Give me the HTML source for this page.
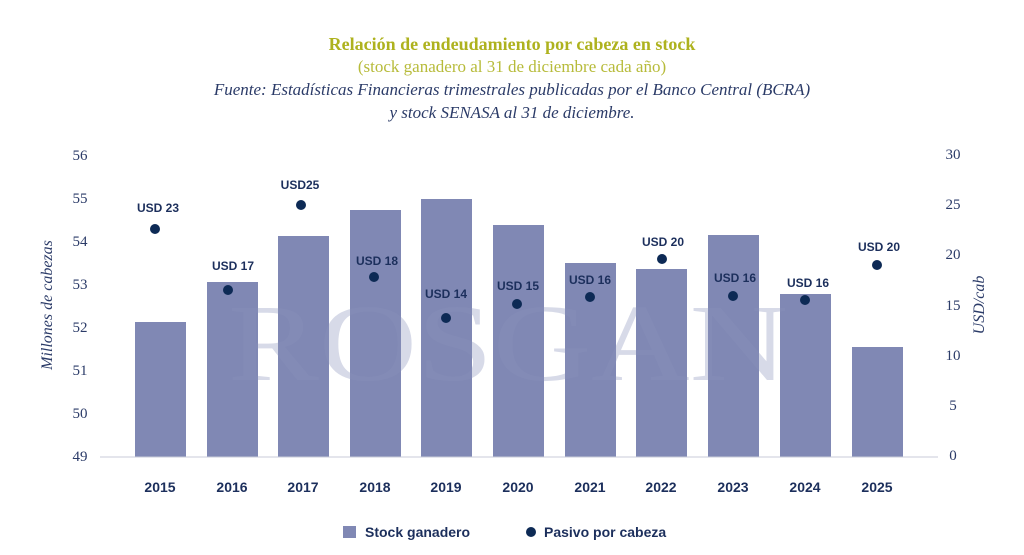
<!DOCTYPE html><html><head><style>body{margin:0;background:#fff;width:1024px;height:550px;overflow:hidden}</style></head><body>
<svg width="1024" height="550" xmlns="http://www.w3.org/2000/svg" font-family="Liberation Serif, serif">
<text x="512" y="50" text-anchor="middle" font-weight="bold" font-size="18" fill="#aeb21e">Relación de endeudamiento por cabeza en stock</text>
<text x="512" y="72" text-anchor="middle" font-size="17" fill="#b7bb3a">(stock ganadero al 31 de diciembre cada año)</text>
<text x="512" y="95" text-anchor="middle" font-style="italic" font-size="17" fill="#2b3b68">Fuente: Estadísticas Financieras trimestrales publicadas por el Banco Central (BCRA)</text>
<text x="512" y="118" text-anchor="middle" font-style="italic" font-size="17" fill="#2b3b68">y stock SENASA al 31 de diciembre.</text>
<g font-size="15" fill="#2b3b68" text-anchor="middle">
<text x="80" y="160">56</text><text x="80" y="203">55</text><text x="80" y="246">54</text><text x="80" y="289">53</text><text x="80" y="332">52</text><text x="80" y="375">51</text><text x="80" y="418">50</text><text x="80" y="461">49</text>
<text x="953" y="159">30</text><text x="953" y="209">25</text><text x="953" y="259">20</text><text x="953" y="310">15</text><text x="953" y="360">10</text><text x="953" y="410">5</text><text x="953" y="460">0</text>
</g>
<text transform="translate(52,305) rotate(-90)" text-anchor="middle" font-style="italic" font-size="16" fill="#2b3b68">Millones de cabezas</text>
<text transform="translate(984,305) rotate(-90)" text-anchor="middle" font-style="italic" font-size="16" fill="#2b3b68">USD/cab</text>
<text x="228" y="380" font-size="110" fill="#e3e5ef" textLength="560" lengthAdjust="spacingAndGlyphs">ROSGAN</text>
<g fill="#8088b4">
<rect x="135" y="322" width="51" height="135"/><rect x="207" y="282" width="51" height="175"/><rect x="278" y="236" width="51" height="221"/><rect x="350" y="210" width="51" height="247"/><rect x="421" y="199" width="51" height="258"/><rect x="493" y="225" width="51" height="232"/><rect x="565" y="263" width="51" height="194"/><rect x="636" y="269" width="51" height="188"/><rect x="708" y="235" width="51" height="222"/><rect x="780" y="294" width="51" height="163"/><rect x="852" y="347" width="51" height="110"/>
</g>
<text x="228" y="380" font-size="110" fill="#9aa1c4" opacity="0.15" textLength="560" lengthAdjust="spacingAndGlyphs">ROSGAN</text>
<line x1="100" y1="457" x2="938" y2="457" stroke="#c8cbd8" stroke-width="1"/>
<g fill="#0d2a55"><circle cx="155" cy="229" r="5"/><circle cx="228" cy="290" r="5"/><circle cx="301" cy="205" r="5"/><circle cx="374" cy="277" r="5"/><circle cx="446" cy="318" r="5"/><circle cx="517" cy="304" r="5"/><circle cx="590" cy="297" r="5"/><circle cx="662" cy="259" r="5"/><circle cx="733" cy="296" r="5"/><circle cx="805" cy="300" r="5"/><circle cx="877" cy="265" r="5"/></g>
<g font-family="Liberation Sans, sans-serif" font-weight="bold" font-size="12" fill="#1c2f5c" text-anchor="middle">
<text x="158" y="212">USD 23</text><text x="233" y="270">USD 17</text><text x="300" y="189">USD25</text><text x="377" y="265">USD 18</text><text x="446" y="298">USD 14</text><text x="518" y="290">USD 15</text><text x="590" y="284">USD 16</text><text x="663" y="246">USD 20</text><text x="735" y="282">USD 16</text><text x="808" y="287">USD 16</text><text x="879" y="251">USD 20</text>
</g>
<g font-family="Liberation Sans, sans-serif" font-weight="bold" font-size="14" fill="#1c2f5c" text-anchor="middle">
<text x="160" y="492">2015</text><text x="232" y="492">2016</text><text x="303" y="492">2017</text><text x="375" y="492">2018</text><text x="446" y="492">2019</text><text x="518" y="492">2020</text><text x="590" y="492">2021</text><text x="661" y="492">2022</text><text x="733" y="492">2023</text><text x="805" y="492">2024</text><text x="877" y="492">2025</text>
</g>
<rect x="343" y="526" width="13" height="12" fill="#8088b4"/>
<text x="365" y="537" font-family="Liberation Sans, sans-serif" font-weight="bold" font-size="14" fill="#1c2f5c">Stock ganadero</text>
<circle cx="531" cy="532" r="5" fill="#0d2a55"/>
<text x="544" y="537" font-family="Liberation Sans, sans-serif" font-weight="bold" font-size="14" fill="#1c2f5c">Pasivo por cabeza</text>
</svg></body></html>
